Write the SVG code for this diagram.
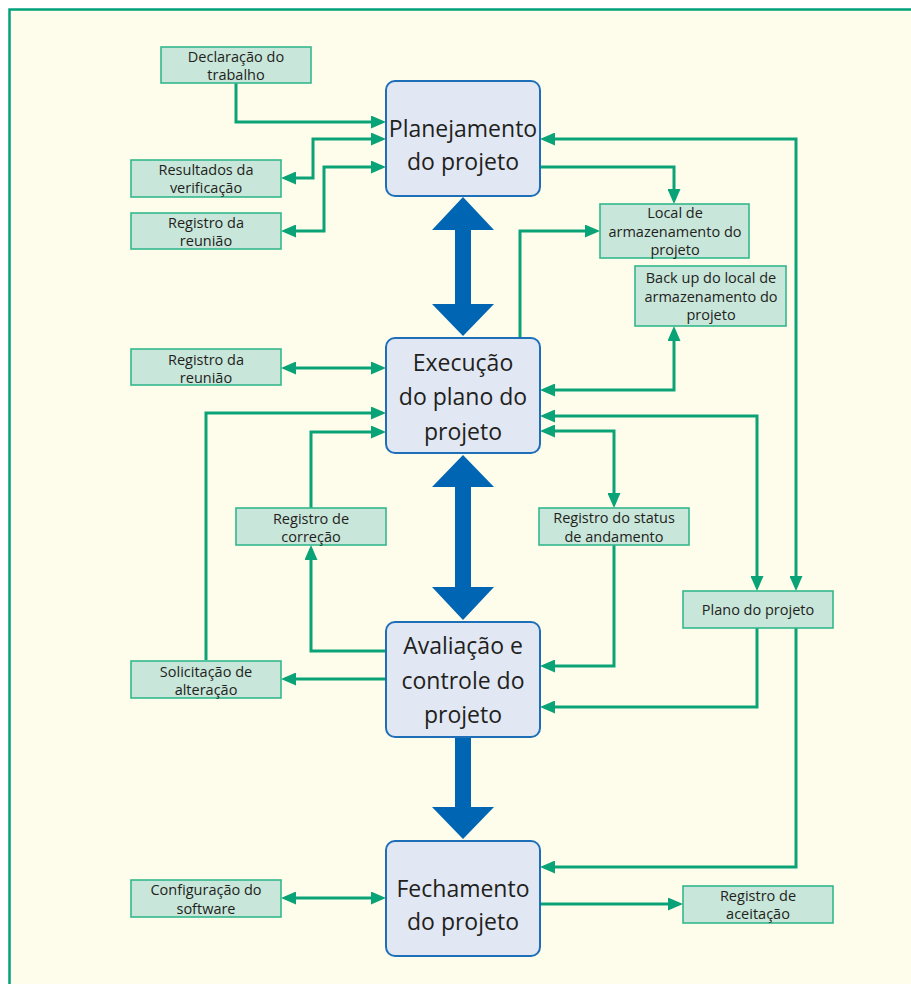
<svg xmlns="http://www.w3.org/2000/svg" width="911" height="984" viewBox="0 0 911 984">
<style>
.main rect{fill:#E1E8F4;stroke:#1E6EB8;stroke-width:2}
.main text{font-family:"Open Sans","Liberation Sans",sans-serif;font-size:23px;fill:#231F20;text-anchor:middle}
.sm rect{fill:#C8E6DA;stroke:#33B88C;stroke-width:1.6}
.sm text{font-family:"Open Sans","Liberation Sans",sans-serif;font-size:14.5px;fill:#231F20;text-anchor:middle}
.c path{fill:none;stroke:#0AA377;stroke-width:3}
.c .a{marker-end:url(#ah)}
.c .b{marker-start:url(#ah);marker-end:url(#ah)}
.blue polygon{fill:#0066B3}
</style>
<defs>
<marker id="ah" markerUnits="userSpaceOnUse" markerWidth="15" markerHeight="13" refX="11" refY="6.5" orient="auto-start-reverse">
<path d="M0,0 L15,6.5 L0,13 z" fill="#0AA377"/>
</marker>
</defs>
<rect x="0" y="0" width="911" height="984" fill="#FFFFFF"/>
<rect x="9.5" y="9.5" width="930" height="1000" fill="#FEFCEA" stroke="#00A27A" stroke-width="2.5"/>

<g class="blue" id="bigarrows">
<polygon points="463,197 494,230 471,230 471,304 494,304 463,336 432,304 455,304 455,230 432,230"/>
<polygon points="463,455 494,487 471,487 471,587 494,587 463,620 432,587 455,587 455,487 432,487"/>
<polygon points="455,737 471,737 471,807 494,807 463,839 432,807 455,807"/>
</g>

<g class="c" id="connectors">
<path class="a" d="M236,83 V122 H382"/>
<path class="b" d="M382,139 H313 V178 H285"/>
<path class="b" d="M382,167 H324 V231 H285"/>
<path class="b" d="M544,139 H796 V587"/>
<path class="a" d="M540,167 H674 V200"/>
<path class="a" d="M520,338 V231 H596"/>
<path class="b" d="M544,390 H674 V330"/>
<path class="b" d="M544,416 H757 V587"/>
<path class="b" d="M544,431 H614 V504"/>
<path class="b" d="M285,368 H382"/>
<path class="a" d="M206,660 V413 H382"/>
<path class="a" d="M386,651 H311 V549"/>
<path class="a" d="M311,508 V432 H382"/>
<path class="a" d="M386,679 H285"/>
<path class="a" d="M614,545 V666 H544"/>
<path class="a" d="M757,628 V707 H544"/>
<path class="a" d="M796,628 V867 H544"/>
<path class="b" d="M285,898 H382"/>
<path class="a" d="M540,904 H679"/>
</g>

<g class="main" id="planejamento"><rect x="386" y="81" width="154" height="115" rx="9"/><text x="463" y="137">Planejamento</text><text x="463" y="170">do projeto</text></g>
<g class="main" id="execucao"><rect x="386" y="338" width="154" height="115" rx="9"/><text x="463" y="371">Execução</text><text x="463" y="405">do plano do</text><text x="463" y="440">projeto</text></g>
<g class="main" id="avaliacao"><rect x="386" y="622" width="154" height="115" rx="9"/><text x="463" y="654">Avaliação e</text><text x="463" y="689">controle do</text><text x="463" y="723">projeto</text></g>
<g class="main" id="fechamento"><rect x="386" y="841" width="154" height="115" rx="9"/><text x="463" y="897">Fechamento</text><text x="463" y="930">do projeto</text></g>

<g class="sm" id="declaracao"><rect x="161" y="47" width="150" height="36"/><text x="236" y="62">Declaração do</text><text x="236" y="80">trabalho</text></g>
<g class="sm" id="resultados"><rect x="131" y="160" width="150" height="37"/><text x="206" y="175">Resultados da</text><text x="206" y="193">verificação</text></g>
<g class="sm" id="reuniao1"><rect x="131" y="213" width="150" height="36"/><text x="206" y="228">Registro da</text><text x="206" y="246">reunião</text></g>
<g class="sm" id="local"><rect x="600" y="204" width="149" height="54"/><text x="675" y="218">Local de</text><text x="675" y="237">armazenamento do</text><text x="675" y="255">projeto</text></g>
<g class="sm" id="backup"><rect x="635" y="266" width="151" height="60"/><text x="711" y="283">Back up do local de</text><text x="711" y="302">armazenamento do</text><text x="711" y="320">projeto</text></g>
<g class="sm" id="reuniao2"><rect x="131" y="349" width="150" height="36"/><text x="206" y="365">Registro da</text><text x="206" y="383">reunião</text></g>
<g class="sm" id="correcao"><rect x="236" y="508" width="150" height="37"/><text x="311" y="524">Registro de</text><text x="311" y="542">correção</text></g>
<g class="sm" id="status"><rect x="539" y="508" width="150" height="37"/><text x="614" y="523">Registro do status</text><text x="614" y="542">de andamento</text></g>
<g class="sm" id="plano"><rect x="683" y="591" width="150" height="37"/><text x="758" y="615">Plano do projeto</text></g>
<g class="sm" id="solicitacao"><rect x="131" y="661" width="150" height="37"/><text x="206" y="677">Solicitação de</text><text x="206" y="695">alteração</text></g>
<g class="sm" id="configuracao"><rect x="131" y="880" width="150" height="37"/><text x="206" y="895">Configuração do</text><text x="206" y="914">software</text></g>
<g class="sm" id="aceitacao"><rect x="683" y="886" width="150" height="37"/><text x="758" y="901">Registro de</text><text x="758" y="919">aceitação</text></g>
</svg>
